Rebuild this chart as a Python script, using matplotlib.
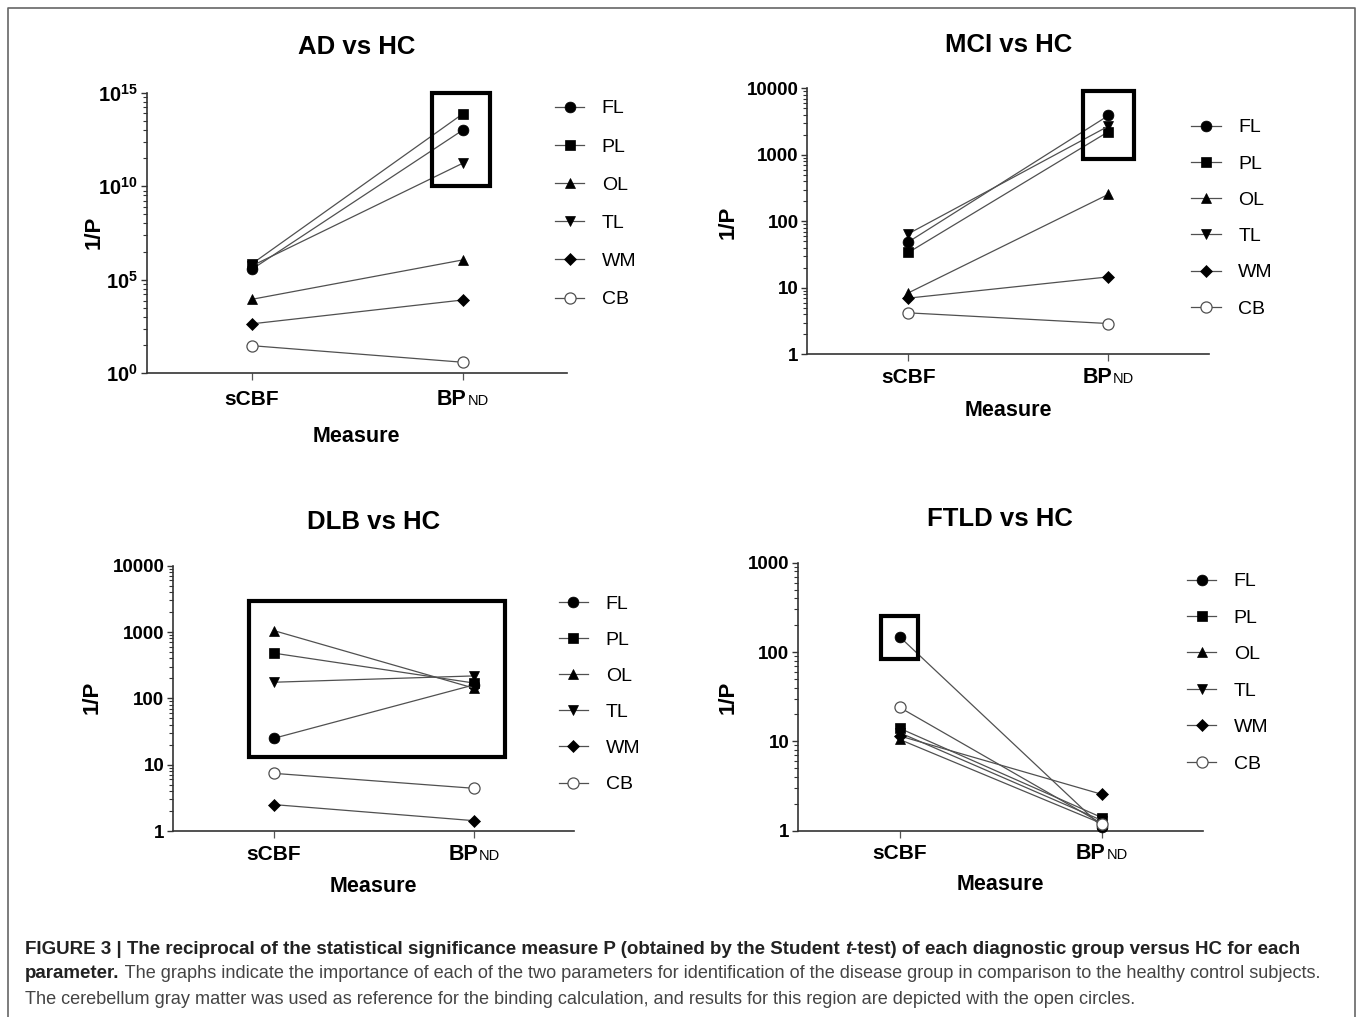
import numpy as np
import matplotlib
matplotlib.use("Agg")
import matplotlib.pyplot as plt
from matplotlib.lines import Line2D
from matplotlib.patches import Rectangle

plt.rcParams['font.family'] = ['Liberation Sans', 'DejaVu Sans']
plt.rcParams['mathtext.fontset'] = 'custom'
plt.rcParams['mathtext.rm'] = 'Liberation Sans'
plt.rcParams['mathtext.bf'] = 'Liberation Sans:bold'

W, H = 1360, 1017

# ---- data (1/P) ----
regions = ['FL', 'PL', 'OL', 'TL', 'WM', 'CB']

AD_sCBF = [3.6e5, 7.0e5, 9.0e3, 5.5e5, 440, 30]
AD_BPND = [1.0e13, 7.4e13, 1.15e6, 1.7e11, 8300, 3.9]

MCI_sCBF = [49, 34, 8.4, 65, 7.0, 4.2]
MCI_BPND = [3900, 2230, 255, 2700, 14.6, 2.9]

DLB_sCBF = [25, 480, 1050, 175, 2.5, 7.4]
DLB_BPND = [160, 170, 142, 218, 1.43, 4.4]

FTLD_sCBF = [148, 14, 10.5, 12.5, 11.5, 24]
FTLD_BPND = [1.1, 1.4, 1.2, 1.3, 2.55, 1.2]

# highlight boxes: (x0, x1, y0, y1) in data units
AD_box = (0.853, 1.129, 1e10, 1e15)
MCI_box = (0.873, 1.13, 870, 9200)
DLB_box = (-0.124, 1.154, 12.9, 2960)
FTLD_box = (-0.094, 0.092, 83, 253)

markers = {'FL': ('o', 7.8), 'PL': ('s', 7.2), 'OL': ('^', 7.8),
           'TL': ('v', 7.8), 'WM': ('D', 5.7), 'CB': ('o', 8)}
linecol = '#505050'


def style(r):
    m, s = markers[r]
    if r == 'CB':
        return dict(marker=m, ms=s, mfc='white', mec=linecol, mew=0.9)
    return dict(marker=m, ms=s, mfc='black', mec='black', mew=0.5)


fig = plt.figure(figsize=(W / 100, H / 100), dpi=100)


def px(x0, x1, ytop, ybot):
    return [x0 / W, 1 - ybot / H, (x1 - x0) / W, (ybot - ytop) / H]


panels = [
    dict(title='AD vs HC', rect=px(146.7, 567, 92.7, 373.3), xlim=(-0.498, 1.494),
         ylim=(1, 1e15), s=AD_sCBF, b=AD_BPND, box=AD_box,
         leg=(555, 107.7, 1.06), title_y=47, ylab=(94, 232), xlab_y=436, tick_off=31.7),
    dict(title='MCI vs HC', rect=px(807.4, 1208.9, 88.3, 354.3), xlim=(-0.505, 1.502),
         ylim=(1, 1e4), s=MCI_sCBF, b=MCI_BPND, box=MCI_box,
         leg=(1191.4, 126.7, 0.96), title_y=45, ylab=(728, 222), xlab_y=410, tick_off=29),
    dict(title='DLB vs HC', rect=px(173, 574.4, 565.7, 831), xlim=(-0.504, 1.5),
         ylim=(1, 1e4), s=DLB_sCBF, b=DLB_BPND, box=DLB_box,
         leg=(558.8, 603.3, 0.95), title_y=522, ylab=(92, 697), xlab_y=886, tick_off=29),
    dict(title='FTLD vs HC', rect=px(798.1, 1202.6, 562.7, 830.7), xlim=(-0.502, 1.497),
         ylim=(1, 1e3), s=FTLD_sCBF, b=FTLD_BPND, box=FTLD_box,
         leg=(1187, 580.7, 0.97), title_y=519, ylab=(728, 697), xlab_y=885, tick_off=28.5),
]

for p in panels:
    ax = fig.add_axes(p['rect'])
    ax.set_yscale('log')
    for i, r in enumerate(regions):
        ax.plot([0, 1], [p['s'][i], p['b'][i]], color=linecol, lw=0.9,
                clip_on=False, zorder=3, **style(r))
    x0, x1, y0, y1 = p['box']
    ax.add_patch(Rectangle((x0, y0), x1 - x0, y1 - y0, fill=False, ec='black',
                           lw=3, clip_on=False, zorder=4))
    ax.set_xlim(*p['xlim'])
    ax.set_ylim(*p['ylim'])
    for sp in ['top', 'right']:
        ax.spines[sp].set_visible(False)
    for sp in ['left', 'bottom']:
        ax.spines[sp].set_color('#333333')
        ax.spines[sp].set_linewidth(1.2)
    ax.set_xticks([0, 1])
    ax.set_xticklabels(['', ''])
    ax.tick_params(axis='x', length=5, width=0.9, color='#555555')
    ax.tick_params(axis='y', which='major', length=4.3, width=1, color='#333333', pad=2)
    ax.tick_params(axis='y', which='minor', length=2.9, width=0.8, color='#333333')

    top = int(round(np.log10(p['ylim'][1])))
    if top == 15:
        majors = [1, 1e5, 1e10, 1e15]
        ax.set_yticks(majors)
        ax.set_yticklabels([r'$\mathbf{10^{%d}}$' % e for e in [0, 5, 10, 15]])
        minors = [10 ** (5 * i + 5 * np.log10(k)) for i in range(3) for k in range(2, 10)]
    else:
        majors = [10 ** e for e in range(top + 1)]
        ax.set_yticks(majors)
        ax.set_yticklabels(['%d' % m for m in majors])
        minors = [k * 10 ** e for e in range(top) for k in range(2, 10)]
    ax.set_yticks(minors, minor=True)
    ax.set_yticklabels([], minor=True)
    for lab in ax.get_yticklabels():
        lab.set_fontweight('bold')
        lab.set_fontsize(14.5 if top == 15 else 13.5)

    # x tick labels
    off = -p['tick_off'] * 72 / 100
    ax.annotate('sCBF', xy=(0, 0), xycoords=('data', 'axes fraction'),
                xytext=(0, off), textcoords='offset points', ha='center',
                va='baseline', fontsize=15, fontweight='bold')
    ax.annotate('BP', xy=(1, 0), xycoords=('data', 'axes fraction'),
                xytext=(2.7, off), textcoords='offset points', ha='right',
                va='baseline', fontsize=15.5, fontweight='bold')
    ax.annotate('ND', xy=(1, 0), xycoords=('data', 'axes fraction'),
                xytext=(3.4, off), textcoords='offset points', ha='left',
                va='baseline', fontsize=10.5)

    cx = p['rect'][0] + p['rect'][2] / 2
    fig.text(cx, 1 - p['title_y'] / H, p['title'], ha='center', va='center',
             fontsize=18.5, fontweight='bold')
    fig.text(cx, 1 - p['xlab_y'] / H, 'Measure', ha='center', va='center',
             fontsize=15.5, fontweight='bold')
    fig.text(p['ylab'][0] / W, 1 - p['ylab'][1] / H, '1/P', ha='center', va='center',
             rotation=90, fontsize=16, fontweight='bold')

    handles = [Line2D([0, 1], [0, 0], color=linecol, lw=0.9, **style(r)) for r in regions]
    lx, ly, lsp = p['leg']
    ax.legend(handles, regions, loc='upper left',
              bbox_to_anchor=(lx / W, 1 - (ly - 8) / H), bbox_transform=fig.transFigure,
              frameon=False, borderpad=0, borderaxespad=0, handlelength=1.5,
              handletextpad=0.91, labelspacing=lsp, fontsize=14)

# ---- frame and caption ----
cap = fig.add_axes([0, 0, 1, 1])
cap.set_xlim(0, W)
cap.set_ylim(H, 0)
cap.axis('off')
cap.plot([8, 8, 1355, 1355], [H + 5, 8, 8, H + 5], color='#666666', lw=1.2, clip_on=False)

fs_b = 13.5
fs_r = 13.05
t1 = cap.text(25, 949, 'FIGURE 3 | The reciprocal of the statistical significance measure P '
              '(obtained by the Student ', fontsize=fs_b, fontweight='bold', color='#222222',
              va='center')
t2 = cap.annotate('t', xy=(1, 0), xycoords=t1, va='bottom', fontsize=fs_b,
                  fontweight='bold', style='italic', color='#222222')
cap.annotate('-test) of each diagnostic group versus HC for each', xy=(1, 0), xycoords=t2,
             va='bottom', fontsize=fs_b, fontweight='bold', color='#222222')
t4 = cap.text(25, 974, 'parameter.', fontsize=fs_b, fontweight='bold', color='#222222',
              va='center')
cap.annotate(' The graphs indicate the importance of each of the two parameters for '
             'identification of the disease group in comparison to the healthy control subjects.',
             xy=(1, 0), xycoords=t4, va='bottom', fontsize=fs_r, color='#444444')
cap.text(25, 999, 'The cerebellum gray matter was used as reference for the binding '
         'calculation, and results for this region are depicted with the open circles.',
         fontsize=fs_r, color='#444444', va='center')

fig.savefig('out.png', dpi=100)
